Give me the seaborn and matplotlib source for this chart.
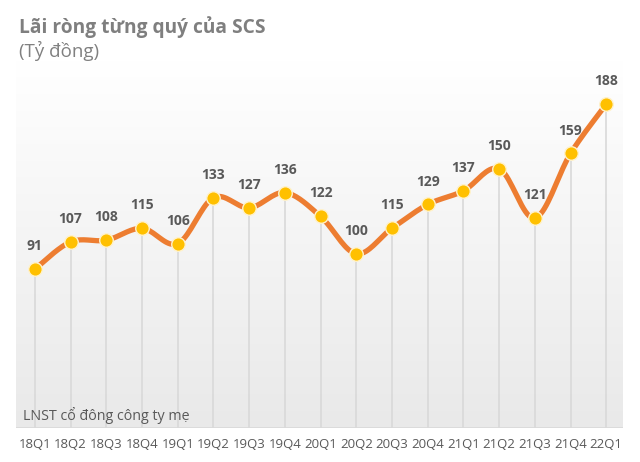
import numpy as np
import pandas as pd
import matplotlib
matplotlib.use("Agg")
import matplotlib.pyplot as plt
import seaborn as sns

# du lieu
quarters = ["18Q1", "18Q2", "18Q3", "18Q4", "19Q1", "19Q2", "19Q3", "19Q4", "20Q1",
            "20Q2", "20Q3", "20Q4", "21Q1", "21Q2", "21Q3", "21Q4", "22Q1"]
profit = [91, 107, 108, 115, 106, 133, 127, 136, 122, 100, 115, 129, 137, 150, 121, 159, 188]

title = "Lãi ròng từng quý của SCS"
unit = "(Tỷ đồng)"
series_name = "LNST cổ đông công ty mẹ"

GRAY = "#595959"
ORANGE = "#ED7D31"
GOLD = "#FFC000"


def smooth_curve(x, y, n=20):
    # duong cong kieu Excel (Catmull-Rom)
    x = np.asarray(x, float)
    y = np.asarray(y, float)
    px = np.concatenate([[x[0]], x, [x[-1]]])
    py = np.concatenate([[y[0]], y, [y[-1]]])
    xs, ys = [], []
    t = np.linspace(0, 1, n)
    for i in range(1, len(px) - 2):
        for arr, out in ((px, xs), (py, ys)):
            p0, p1, p2, p3 = arr[i - 1], arr[i], arr[i + 1], arr[i + 2]
            m1 = (p2 - p0) / 2
            m2 = (p3 - p1) / 2
            h00 = 2 * t**3 - 3 * t**2 + 1
            h10 = t**3 - 2 * t**2 + t
            h01 = -2 * t**3 + 3 * t**2
            h11 = t**3 - t**2
            out.extend(h00 * p1 + h10 * m1 + h01 * p2 + h11 * m2)
    return np.array(xs), np.array(ys)


df = pd.DataFrame({"quy": quarters, "lai": profit})
df["pos"] = np.arange(len(df))

sns.set_style("white")
plt.rcParams["font.family"] = ["Open Sans", "DejaVu Sans"]

fig = plt.figure(figsize=(6.4, 4.62), dpi=100)
ax = fig.add_axes([16 / 640, 1 - 428 / 462, (623 - 16) / 640, (428 - 60) / 462])

# nen gradient
grad = np.linspace(1, 0, 256).reshape(-1, 1)
cmap = matplotlib.colors.LinearSegmentedColormap.from_list("bg", ["#E9E9E9", "#FFFFFF"])
ax.imshow(grad, aspect="auto", cmap=cmap, extent=[-0.53, 16.47, -2.5, 214],
          origin="upper", zorder=0)

ax.vlines(df["pos"], -2.5, df["lai"], color="#D9D9D9", lw=1.2, zorder=1)
ax.axhline(-2.5, color="#D9D9D9", lw=1.2, zorder=1)

sx, sy = smooth_curve(df["pos"], df["lai"])
ax.plot(sx, sy, color=ORANGE, lw=3.8, solid_capstyle="round", zorder=2)
sns.scatterplot(data=df, x="pos", y="lai", ax=ax, color=GOLD, s=95,
                edgecolor="#FFF2CC", linewidth=1, zorder=3)

for _, r in df.iterrows():
    ax.annotate(str(r["lai"]), (r["pos"], r["lai"]), xytext=(0, 11.5),
                textcoords="offset points", ha="center", va="bottom",
                fontsize=10, fontweight="bold", color=GRAY)

ax.set_xlim(-0.53, 16.47)
ax.set_ylim(-2.5, 214)
ax.set_xticks(df["pos"])
ax.set_xticklabels(quarters, fontsize=9.5, color=GRAY)
ax.tick_params(axis="x", length=0, pad=7)
ax.set_yticks([])
ax.set_xlabel("")
ax.set_ylabel("")
for s in ax.spines.values():
    s.set_visible(False)

ax.text(0.012, 0.012, series_name, transform=ax.transAxes, fontsize=10.3,
        color=GRAY, va="bottom", ha="left")

fig.text(19 / 640, 1 - 27 / 462, title, fontsize=13.8, fontweight="bold",
         color="#7F7F7F", va="center", ha="left")
fig.text(19 / 640, 1 - 51 / 462, unit, fontsize=13.5, color="#808080",
         va="center", ha="left")

fig.savefig("out.png", dpi=100)
